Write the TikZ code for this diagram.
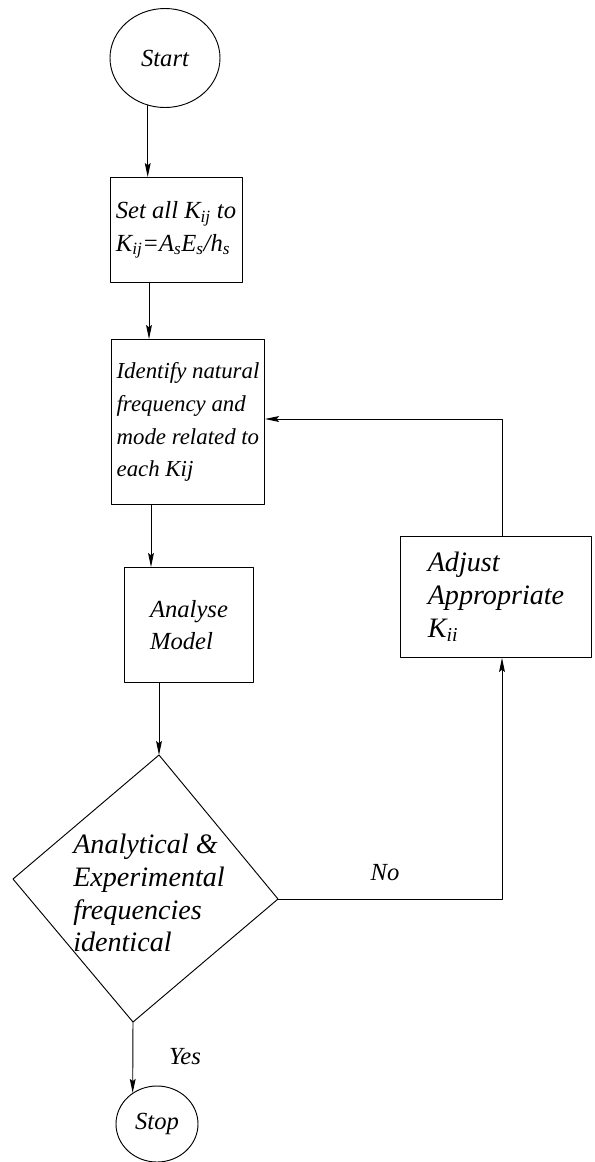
\documentclass[tikz,border=0pt]{standalone}
\usepackage{fontspec}
\setmainfont{Liberation Serif}
\usetikzlibrary{arrows.meta,shapes.geometric}
\tikzset{
    lab/.style={
        font=\fontsize{21}{28}\selectfont\itshape
    }
}

\begin{document}
\begin{tikzpicture}[x=0.03cm,y=-0.03cm, line cap=round, line join=round]

\tikzset{
  main/.style={draw=black, line width=0.8pt},
  flow/.style={main, -{Stealth[length=12pt,width=5pt,inset=2pt]}},
  term/.style={ellipse, main, lab, inner sep=0pt},
  proc/.style={rectangle, main, lab, align=left, inner sep=0pt},
  big/.style={font=\fontsize{24}{28}\selectfont\itshape},
  small/.style={font=\fontsize{19.5}{28}\selectfont\itshape},
}

\useasboundingbox (0,0) rectangle (595,1162);

% terminals
\node[term, minimum width=3.3cm, minimum height=2.97cm] (start) at (165,58) {Start};
\node[term, minimum width=2.46cm, minimum height=2.28cm] (stop) at (157,1124) {Stop};

% process boxes
\node[proc, minimum width=3.96cm, minimum height=3.15cm] (set) at (176,230) {Set all K\textsubscript{ij} to\\K\textsubscript{ij}=A\textsubscript{s}E\textsubscript{s}/h\textsubscript{s}};
\node[proc, small, minimum width=4.59cm, minimum height=4.95cm] (ident) at (188,422) {Identify natural\\frequency and\\mode related to\\each Kij};
\node[proc, minimum width=3.87cm, minimum height=3.45cm] (anal) at (189,625) {Analyse\\Model};
\node[proc, big, minimum width=5.73cm, minimum height=3.63cm] (adj) at (496,597) {Adjust\\Appropriate\\K\textsubscript{ii}};

% decision
\coordinate (dt) at (159,755);
\coordinate (dr) at (278,899);
\coordinate (db) at (133,1022);
\coordinate (dl) at (13,879);
\draw[main] (dt) -- (dr) -- (db) -- (dl) -- cycle;
\node[big, align=left] (dec) at (149,893) {Analytical \&\\Experimental\\frequencies\\identical};

% main column
\coordinate (c1) at (149,0);
\coordinate (c2) at (151,0);
\draw[flow] (start.250) -- (set.north -| start.250);
\draw[flow] (set.south -| c1) -- (ident.north -| c1);
\draw[flow] (ident.south -| c2) -- (anal.north -| c2);
\draw[flow] (anal.south -| dt) -- (dt);
\draw[flow] (db) -- (stop.128);

% loop back
\coordinate (back) at (502,419);
\draw[flow] (dr) -| (adj.south -| back);
\draw[flow] (adj.north -| back) -- (back) -- (ident.east |- back);

% labels
\node[lab] (no) at (385,873) {No};
\node[lab] (yes) at (185,1057) {Yes};

\end{tikzpicture}
\end{document}
